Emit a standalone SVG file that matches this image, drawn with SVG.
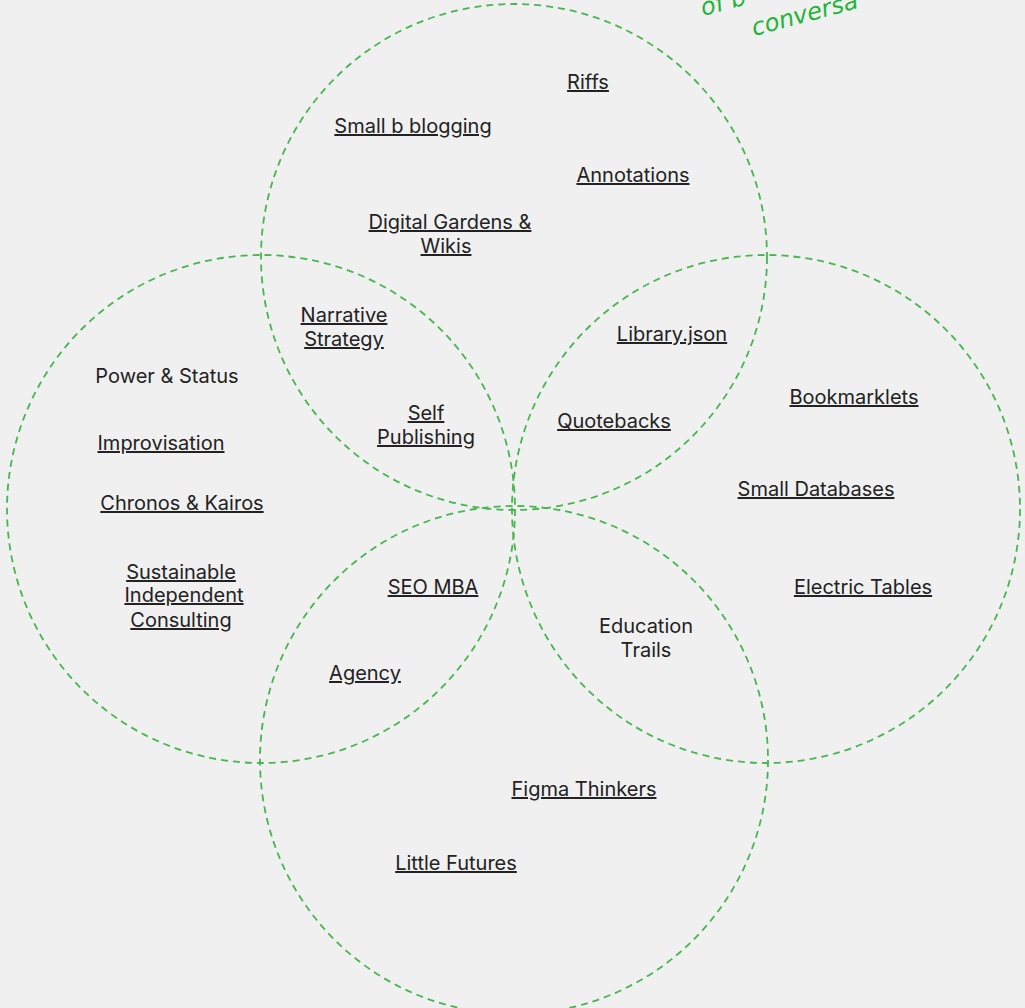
<svg xmlns="http://www.w3.org/2000/svg" width="1025" height="1008" viewBox="0 0 1025 1008">
<style>
.c{fill:none;stroke:#46b64f;stroke-width:1.8;stroke-dasharray:7 5}
text{font-family:Inter,"Liberation Sans",sans-serif;font-size:20px;fill:#222;text-anchor:middle}
.u{text-decoration:underline}
.h{font-family:"DejaVu Sans",sans-serif;font-style:italic;font-size:24px;fill:#1fb53a;text-anchor:start}
</style>
<rect width="1025" height="1008" fill="#f0f0f0"/>
<g id="connectors">
<circle id="circle-top" class="c" cx="514" cy="257" r="253"/>
<circle id="circle-left" class="c" cx="261" cy="509" r="254"/>
<circle id="circle-right" class="c" cx="766" cy="509" r="254"/>
<circle id="circle-bottom" class="c" cx="514" cy="760" r="254"/>
</g>
<g id="note"><text class="h" transform="translate(703 16) rotate(-15)">of b</text><text class="h" transform="translate(754 36) rotate(-15)">conversa</text></g>
<g id="riffs"><text class="u" x="588" y="89">Riffs</text></g>
<g id="small-b-blogging"><text class="u" x="413" y="133">Small b blogging</text></g>
<g id="annotations"><text class="u" x="633" y="182">Annotations</text></g>
<g id="digital-gardens"><text class="u" x="450" y="229">Digital Gardens &amp;</text><text class="u" x="446" y="253">Wikis</text></g>
<g id="narrative-strategy"><text class="u" x="344" y="322">Narrative</text><text class="u" x="344" y="346">Strategy</text></g>
<g id="power-status"><text x="167" y="383">Power &amp; Status</text></g>
<g id="self-publishing"><text class="u" x="426" y="420">Self</text><text class="u" x="426" y="444">Publishing</text></g>
<g id="improvisation"><text class="u" x="161" y="450">Improvisation</text></g>
<g id="chronos-kairos"><text class="u" x="182" y="510">Chronos &amp; Kairos</text></g>
<g id="library-json"><text class="u" x="672" y="341">Library.json</text></g>
<g id="quotebacks"><text class="u" x="614" y="428">Quotebacks</text></g>
<g id="bookmarklets"><text class="u" x="854" y="404">Bookmarklets</text></g>
<g id="small-databases"><text class="u" x="816" y="496">Small Databases</text></g>
<g id="sustainable-consulting"><text class="u" x="181" y="579">Sustainable</text><text class="u" x="184" y="602">Independent</text><text class="u" x="181" y="627">Consulting</text></g>
<g id="seo-mba"><text class="u" x="433" y="594">SEO MBA</text></g>
<g id="agency"><text class="u" x="365" y="680">Agency</text></g>
<g id="electric-tables"><text class="u" x="863" y="594">Electric Tables</text></g>
<g id="education-trails"><text x="646" y="633">Education</text><text x="646" y="657">Trails</text></g>
<g id="figma-thinkers"><text class="u" x="584" y="796">Figma Thinkers</text></g>
<g id="little-futures"><text class="u" x="456" y="870">Little Futures</text></g>
</svg>
